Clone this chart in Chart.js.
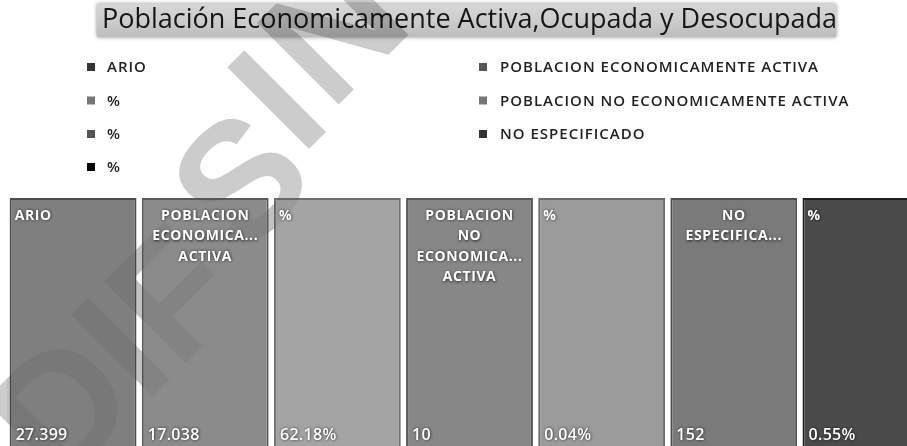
<!DOCTYPE html>
<html>
<head>
<meta charset="utf-8">
<script src="https://cdn.jsdelivr.net/npm/chart.js@4/dist/chart.umd.min.js"></script>
<style>
  html, body { margin: 0; padding: 0; background: #fff; overflow: hidden; }
  #wrap { width: 932px; height: 450px; }
</style>
</head>
<body>
<div id="wrap"><canvas id="c" width="932" height="450"></canvas></div>
<script>
// ---- data ----
const titleText = 'Población Economicamente Activa,Ocupada y Desocupada';
const categories = ['ARIO', 'POBLACION ECONOMICAMENTE ACTIVA', '%', 'POBLACION NO ECONOMICAMENTE ACTIVA', '%', 'NO ESPECIFICADO', '%'];
const boxLabelLines = [['ARIO'], ['POBLACION', 'ECONOMICA...', 'ACTIVA'], ['%'], ['POBLACION', 'NO', 'ECONOMICA...', 'ACTIVA'], ['%'], ['NO', 'ESPECIFICA...'], ['%']];
const values = [27399, 17038, 62.18, 10, 0.04, 152, 0.55];
const valueKinds = ['count', 'count', 'percent', 'count', 'percent', 'count', 'percent'];
const legendLeft = ['ARIO', '%', '%', '%'];
const legendRight = ['POBLACION ECONOMICAMENTE ACTIVA', 'POBLACION NO ECONOMICAMENTE ACTIVA', 'NO ESPECIFICADO'];
const watermarkParts = ['DIF', 'S', 'I', 'N'];

// ---- styles ----
const boxColors = ['#7f7f7f', '#8b8b8b', '#a4a4a4', '#878787', '#9b9b9b', '#7a7a7a', '#4b4b4b'];
const boxBorders = ['#4a4a4a', '#5a5a5a', '#6e6e6e', '#5a5a5a', '#6a6a6a', '#4e4e4e', '#1e1e1e'];
const legendLeftColors = ['#333333', '#777777', '#555555', '#000000'];
const legendRightColors = ['#555555', '#777777', '#333333'];
const boxAlign = ['left', 'center', 'left', 'center', 'left', 'center', 'left'];
const watermarkCenters = [[112, 352], [238, 178], [275, 98], [331, 27]];

function formatValue(v, kind) {
  if (kind === 'percent') return v.toFixed(2) + '%';
  return String(Math.round(v)).replace(/\B(?=(\d{3})+(?!\d))/g, '.');
}
const valueLabels = values.map((v, i) => formatValue(v, valueKinds[i]));

const boxExtent = [0, 1];

const titleBoxPlugin = {
  id: 'titleBox',
  beforeDraw(chart) {
    const ctx = chart.ctx;
    ctx.save();
    ctx.shadowColor = 'rgba(0,0,0,0.45)';
    ctx.shadowBlur = 4;
    const g = ctx.createLinearGradient(0, 4, 0, 37);
    g.addColorStop(0, '#d6d6d6');
    g.addColorStop(0.5, '#cdcdcd');
    g.addColorStop(1, '#bcbcbc');
    ctx.fillStyle = g;
    ctx.fillRect(97, 4, 739, 33);
    ctx.restore();
  }
};

const legendPlugin = {
  id: 'customLegend',
  afterDraw(chart) {
    const ctx = chart.ctx;
    ctx.save();
    ctx.font = '600 15px "Open Sans"';
    ctx.letterSpacing = '1px';
    ctx.textBaseline = 'middle';
    ctx.textAlign = 'left';
    const rowY = [67, 100.5, 134, 167];
    legendLeft.forEach((t, i) => {
      ctx.fillStyle = legendLeftColors[i];
      ctx.fillRect(87, rowY[i] - 4, 8, 8);
      ctx.fillStyle = '#222';
      ctx.fillText(t, 107, rowY[i] + 1);
    });
    legendRight.forEach((t, i) => {
      ctx.fillStyle = legendRightColors[i];
      ctx.fillRect(479, rowY[i] - 4, 8, 8);
      ctx.fillStyle = '#222';
      ctx.fillText(t, 500, rowY[i] + 1);
    });
    ctx.restore();
  }
};

function drawWatermark(ctx, alpha) {
  ctx.save();
  ctx.font = 'bold 168px "Liberation Sans"';
  ctx.fillStyle = 'rgba(0,0,0,' + alpha + ')';
  ctx.textBaseline = 'alphabetic';
  ctx.textAlign = 'center';
  const capHalf = 168 * 0.716 / 2;
  watermarkParts.forEach((t, i) => {
    ctx.save();
    ctx.translate(watermarkCenters[i][0], watermarkCenters[i][1]);
    ctx.rotate(-Math.PI / 4);
    ctx.fillText(t, 0, capHalf);
    ctx.restore();
  });
  ctx.restore();
}

const watermarkPlugin = {
  id: 'watermark',
  beforeDatasetsDraw(chart) { drawWatermark(chart.ctx, 0.2); },
  afterDatasetsDraw(chart) {
    const ctx = chart.ctx;
    ctx.save();
    const a = chart.chartArea;
    ctx.beginPath();
    ctx.rect(a.left, a.top, a.right - a.left, a.bottom - a.top);
    ctx.clip();
    drawWatermark(ctx, 0.05);
    ctx.restore();
  }
};

const boxLabelPlugin = {
  id: 'boxLabels',
  afterDatasetsDraw(chart) {
    const ctx = chart.ctx;
    const meta = chart.getDatasetMeta(0);
    ctx.save();
    ctx.fillStyle = '#ffffff';
    ctx.shadowColor = 'rgba(0,0,0,0.75)';
    ctx.shadowBlur = 3;
    ctx.shadowOffsetX = 0.5;
    ctx.shadowOffsetY = 0.5;
    ctx.textBaseline = 'middle';
    meta.data.forEach((bar, i) => {
      const left = bar.x - bar.width / 2;
      ctx.font = 'bold 14px "Open Sans"';
      ctx.letterSpacing = '0.6px';
      boxLabelLines[i].forEach((line, j) => {
        const y = bar.y + 18 + j * 20.5;
        if (boxAlign[i] === 'center') {
          ctx.textAlign = 'center';
          ctx.fillText(line, bar.x, y);
        } else {
          ctx.textAlign = 'left';
          ctx.fillText(line, left + 5, y);
        }
      });
      ctx.font = '600 16px "Open Sans"';
      ctx.letterSpacing = '0.3px';
      ctx.textAlign = 'left';
      ctx.fillText(valueLabels[i], left + 6, 435);
    });
    ctx.restore();
  }
};

new Chart(document.getElementById('c'), {
  type: 'bar',
  data: {
    labels: categories,
    datasets: [{
      data: categories.map(() => boxExtent),
      backgroundColor: boxColors,
      borderColor: boxBorders,
      borderWidth: 2,
      borderSkipped: false,
      categoryPercentage: 1,
      barPercentage: 0.96
    }]
  },
  options: {
    responsive: false,
    animation: false,
    layout: { padding: { left: 7, right: 0, top: 0, bottom: 0 } },
    plugins: {
      legend: { display: false },
      tooltip: { enabled: false },
      title: {
        display: true,
        text: titleText,
        color: '#161616',
        font: { family: 'Open Sans', size: 27, weight: 'normal', lineHeight: 1.2 },
        padding: { top: 4, bottom: 161.6 }
      }
    },
    scales: {
      x: { display: false },
      y: { display: false, min: 0, max: 1 }
    }
  },
  plugins: [titleBoxPlugin, watermarkPlugin, boxLabelPlugin, legendPlugin]
});
</script>
</body>
</html>
